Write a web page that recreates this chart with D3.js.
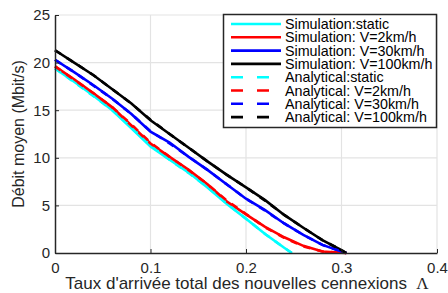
<!DOCTYPE html>
<html><head><meta charset="utf-8">
<script src="https://cdn.jsdelivr.net/npm/d3@7"></script>
<style>
body{margin:0;background:#fff;}
svg{display:block;font-family:"Liberation Sans",Arial,sans-serif;}
</style></head>
<body><svg id="c" width="448" height="293"></svg>
<script>
// ---- data ----
const xGrid = [0,0.02,0.04,0.06,0.08,0.10,0.12,0.14,0.16,0.18,0.20,0.22,0.24,0.26,0.28,0.30,0.305];
const simStaticX = [0,0.02,0.04,0.06,0.08,0.10,0.12,0.14,0.16,0.18,0.20,0.22,0.24,0.248];
const simStatic = [19.4,18.0,16.55,15.0,13.1,11.2,9.8,8.45,6.85,5.15,3.6,2.0,0.55,0];
const simV2 = [19.6,18.25,16.8,15.3,13.4,11.5,10.1,8.75,7.2,5.4,4.05,2.75,1.65,0.75,0.15,0.02,0];
const simV30 = [20.3,19.0,17.65,16.2,14.6,12.75,11.6,10.1,8.7,7.2,5.7,4.5,3.1,1.9,0.85,0.15,0];
const simV100 = [21.3,20.0,18.7,17.2,15.7,13.95,12.5,11.05,9.6,8.2,6.9,5.55,4.0,2.65,1.35,0.3,0];
const anaStatic = [19.4,17.95,16.5,15.0,13.2,11.3,9.8,8.4,6.9,5.2,3.6,2.0,0.55,0];
const anaV2 = [19.6,18.2,16.8,15.3,13.5,11.6,10.1,8.7,7.2,5.5,4.1,2.7,1.6,0.7,0.15,0.02,0];
const anaV30 = [20.3,19.0,17.6,16.2,14.6,12.8,11.5,10.1,8.7,7.2,5.7,4.45,3.1,1.9,0.85,0.15,0];
const anaV100 = [21.3,20.0,18.7,17.2,15.7,14.0,12.5,11.05,9.6,8.2,6.9,5.5,4.0,2.65,1.35,0.3,0];
const xTicks = [0,0.1,0.2,0.3,0.4];
const yTicks = [0,5,10,15,20,25];
const legendLabels = ["Simulation:static","Simulation: V=2km/h","Simulation: V=30km/h","Simulation: V=100km/h",
  "Analytical:static","Analytical: V=2km/h","Analytical: V=30km/h","Analytical: V=100km/h"];
const colors = ["#00ffff","#ff0000","#0000ff","#000000"];

// ---- layout ----
const svg = d3.select("#c");
const L=55, R=437, T=15, B=253;
const x = d3.scaleLinear().domain([0,0.4]).range([L,R]);
const y = d3.scaleLinear().domain([0,25]).range([B,T]);
const axisCol = "#262626";

// grid
svg.append("g").selectAll("line").data(xTicks.slice(1)).join("line")
  .attr("x1",d=>x(d)).attr("x2",d=>x(d)).attr("y1",T).attr("y2",B)
  .attr("stroke","#e3e3e3").attr("stroke-width",1.2);
svg.append("g").selectAll("line").data(yTicks.slice(1)).join("line")
  .attr("y1",d=>y(d)).attr("y2",d=>y(d)).attr("x1",L).attr("x2",R)
  .attr("stroke","#e3e3e3").attr("stroke-width",1.2);

// series
const series = [
  {xs:simStaticX, ys:simStatic, c:0, dash:null},
  {xs:xGrid, ys:simV2, c:1, dash:null},
  {xs:xGrid, ys:simV30, c:2, dash:null},
  {xs:xGrid, ys:simV100, c:3, dash:null},
  {xs:simStaticX, ys:anaStatic, c:0, dash:"7,7"},
  {xs:xGrid, ys:anaV2, c:1, dash:"7,7"},
  {xs:xGrid, ys:anaV30, c:2, dash:"7,7"},
  {xs:xGrid, ys:anaV100, c:3, dash:"7,7"}
];
const line = d3.line().x(d=>x(d[0])).y(d=>y(d[1]));
series.forEach(s=>{
  const pts = s.xs.map((v,i)=>[v,s.ys[i]]);
  svg.append("path").attr("d",line(pts)).attr("fill","none")
    .attr("stroke",colors[s.c]).attr("stroke-width",2.6)
    .attr("stroke-dasharray",s.dash);
});

// axes
const xAxis = d3.axisBottom(x).tickValues(xTicks).tickFormat(d=>d===0?"0":d3.format(".1f")(d)).tickSizeInner(-4).tickSizeOuter(0).tickPadding(9);
const yAxis = d3.axisLeft(y).tickValues(yTicks).tickFormat(d3.format("d")).tickSizeInner(-4).tickSizeOuter(0).tickPadding(5);
const gx = svg.append("g").attr("transform",`translate(0,${B})`).call(xAxis);
const gy = svg.append("g").attr("transform",`translate(${L},0)`).call(yAxis);
[gx,gy].forEach(g=>{
  g.select(".domain").attr("stroke",axisCol).attr("stroke-width",1.5);
  g.selectAll(".tick line").attr("stroke",axisCol).attr("stroke-width",1);
  g.selectAll(".tick text").attr("fill",axisCol).attr("font-size",15)
   .attr("font-family","Liberation Sans, Arial, sans-serif");
});

// labels
svg.append("text").attr("x",(L+R)/2+1).attr("y",289).attr("text-anchor","middle")
  .attr("font-size",17).attr("fill",axisCol)
  .call(t=>{ t.append("tspan").text("Taux d'arrivée total des nouvelles cennexions\u00a0\u00a0");
             t.append("tspan").attr("font-family","Liberation Serif, serif").text("\u039b"); });
svg.append("text").attr("transform",`translate(24,${(T+B)/2}) rotate(-90)`).attr("text-anchor","middle")
  .attr("font-size",16).attr("fill",axisCol).text("Débit moyen (Mbit/s)");

// legend
const lg = svg.append("g");
lg.append("rect").attr("x",223.5).attr("y",14.5).attr("width",213).attr("height",113)
  .attr("fill","#fff").attr("stroke",axisCol).attr("stroke-width",1.5);
legendLabels.forEach((lab,i)=>{
  const yy = 24 + i*13.3;
  lg.append("line").attr("x1",231).attr("x2",281).attr("y1",yy).attr("y2",yy)
    .attr("stroke",colors[i%4]).attr("stroke-width",2.6)
    .attr("stroke-dasharray", i<4?null:"12,14");
  lg.append("text").attr("x",285).attr("y",yy).attr("dy","0.36em")
    .attr("font-size",14.3).attr("fill","#000").text(lab);
});
</script></body></html>
